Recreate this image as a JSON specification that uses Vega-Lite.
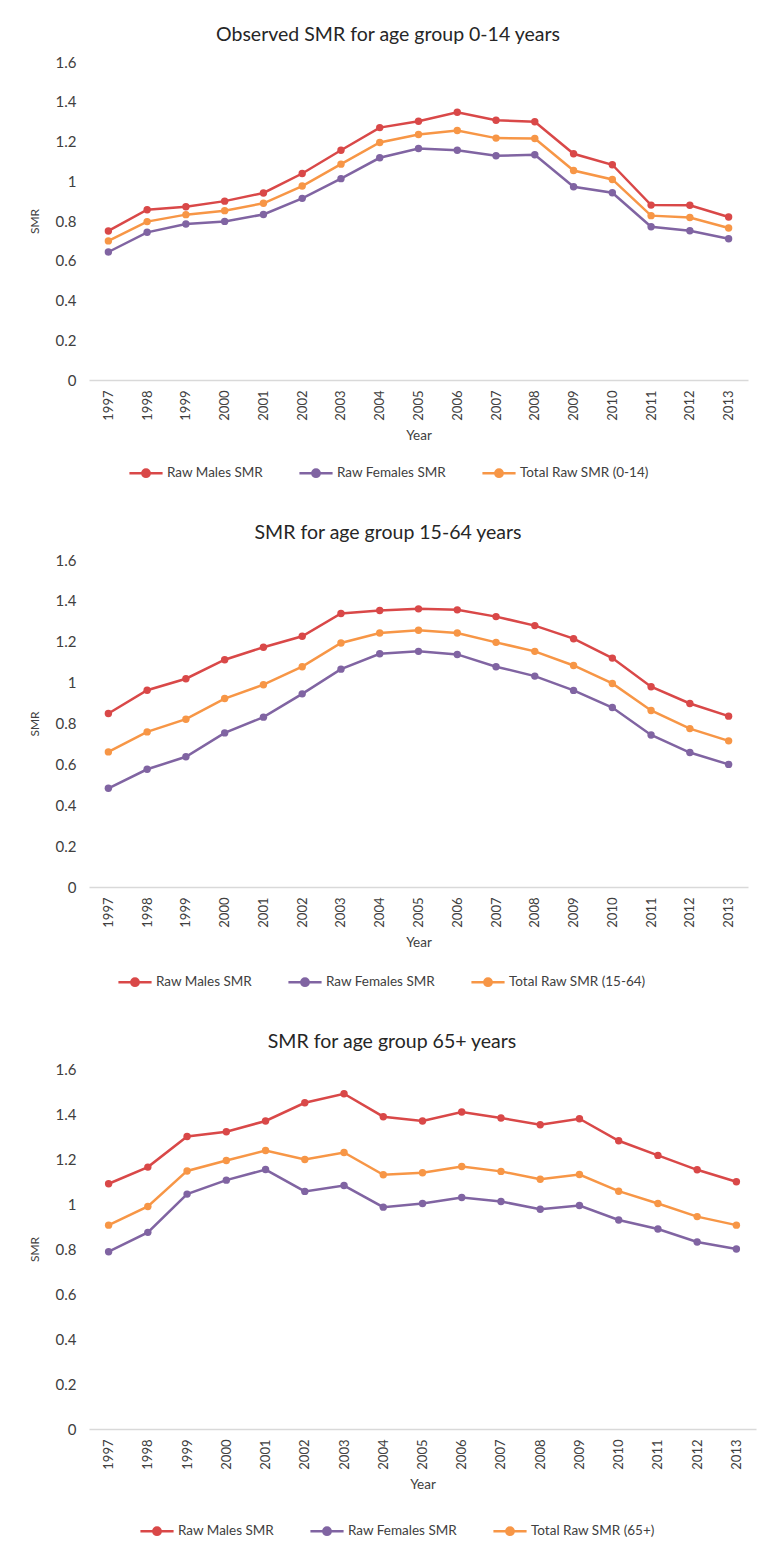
{
  "$schema": "https://vega.github.io/schema/vega-lite/v6.json",
  "background": "white",
  "padding": {"left": 28, "top": 24, "right": 5, "bottom": 5},
  "config": {
    "font": "Lato",
    "view": {"stroke": null},
    "axis": {"labelColor": "#404040", "titleColor": "#404040", "titleFontWeight": "normal", "ticks": false, "grid": false, "domain": false},
    "axisX": {"domain": true, "domainColor": "#d9d9d9", "domainWidth": 1.5, "labelAngle": -90, "labelFontSize": 13, "labelPadding": 10, "titleFontSize": 13.5, "titlePadding": 8},
    "axisY": {"labelFontSize": 15, "labelPadding": 13, "titleFontSize": 12, "titlePadding": 14, "values": [0, 0.2, 0.4, 0.6, 0.8, 1, 1.2, 1.4, 1.6], "format": "~g"},
    "title": {"fontSize": 19.5, "fontWeight": "normal", "color": "#262626", "anchor": "middle", "frame": "bounds", "offset": 10},
    "legend": {"orient": "none", "direction": "horizontal", "title": null, "labelFontSize": 13.5, "labelColor": "#404040", "symbolType": "M-1,0L1,0M-0.22,0A0.22,0.22 0 1,0 0.22,0A0.22,0.22 0 1,0 -0.22,0", "symbolSize": 1100, "symbolStrokeWidth": 2.5, "columnPadding": 30, "labelOffset": 3},
    "line": {"strokeWidth": 2.5},
    "point": {"filled": true, "size": 55, "opacity": 1},
    "concat": {"spacing": 40}
  },
  "vconcat": [
    {
      "title": "Observed SMR for age group 0-14 years",
      "width": 659,
      "height": 318,
      "data": {"values": [
        {"Year": 1997, "Series": "Raw Males SMR", "SMR": 0.750},
        {"Year": 1998, "Series": "Raw Males SMR", "SMR": 0.857},
        {"Year": 1999, "Series": "Raw Males SMR", "SMR": 0.872},
        {"Year": 2000, "Series": "Raw Males SMR", "SMR": 0.900},
        {"Year": 2001, "Series": "Raw Males SMR", "SMR": 0.941},
        {"Year": 2002, "Series": "Raw Males SMR", "SMR": 1.039},
        {"Year": 2003, "Series": "Raw Males SMR", "SMR": 1.156},
        {"Year": 2004, "Series": "Raw Males SMR", "SMR": 1.270},
        {"Year": 2005, "Series": "Raw Males SMR", "SMR": 1.302},
        {"Year": 2006, "Series": "Raw Males SMR", "SMR": 1.347},
        {"Year": 2007, "Series": "Raw Males SMR", "SMR": 1.307},
        {"Year": 2008, "Series": "Raw Males SMR", "SMR": 1.299},
        {"Year": 2009, "Series": "Raw Males SMR", "SMR": 1.138},
        {"Year": 2010, "Series": "Raw Males SMR", "SMR": 1.083},
        {"Year": 2011, "Series": "Raw Males SMR", "SMR": 0.880},
        {"Year": 2012, "Series": "Raw Males SMR", "SMR": 0.879},
        {"Year": 2013, "Series": "Raw Males SMR", "SMR": 0.820},
        {"Year": 1997, "Series": "Raw Females SMR", "SMR": 0.644},
        {"Year": 1998, "Series": "Raw Females SMR", "SMR": 0.743},
        {"Year": 1999, "Series": "Raw Females SMR", "SMR": 0.785},
        {"Year": 2000, "Series": "Raw Females SMR", "SMR": 0.798},
        {"Year": 2001, "Series": "Raw Females SMR", "SMR": 0.833},
        {"Year": 2002, "Series": "Raw Females SMR", "SMR": 0.914},
        {"Year": 2003, "Series": "Raw Females SMR", "SMR": 1.013},
        {"Year": 2004, "Series": "Raw Females SMR", "SMR": 1.118},
        {"Year": 2005, "Series": "Raw Females SMR", "SMR": 1.165},
        {"Year": 2006, "Series": "Raw Females SMR", "SMR": 1.156},
        {"Year": 2007, "Series": "Raw Females SMR", "SMR": 1.128},
        {"Year": 2008, "Series": "Raw Females SMR", "SMR": 1.133},
        {"Year": 2009, "Series": "Raw Females SMR", "SMR": 0.972},
        {"Year": 2010, "Series": "Raw Females SMR", "SMR": 0.942},
        {"Year": 2011, "Series": "Raw Females SMR", "SMR": 0.771},
        {"Year": 2012, "Series": "Raw Females SMR", "SMR": 0.751},
        {"Year": 2013, "Series": "Raw Females SMR", "SMR": 0.711},
        {"Year": 1997, "Series": "Total Raw SMR (0-14)", "SMR": 0.700},
        {"Year": 1998, "Series": "Total Raw SMR (0-14)", "SMR": 0.797},
        {"Year": 1999, "Series": "Total Raw SMR (0-14)", "SMR": 0.832},
        {"Year": 2000, "Series": "Total Raw SMR (0-14)", "SMR": 0.852},
        {"Year": 2001, "Series": "Total Raw SMR (0-14)", "SMR": 0.889},
        {"Year": 2002, "Series": "Total Raw SMR (0-14)", "SMR": 0.976},
        {"Year": 2003, "Series": "Total Raw SMR (0-14)", "SMR": 1.086},
        {"Year": 2004, "Series": "Total Raw SMR (0-14)", "SMR": 1.195},
        {"Year": 2005, "Series": "Total Raw SMR (0-14)", "SMR": 1.235},
        {"Year": 2006, "Series": "Total Raw SMR (0-14)", "SMR": 1.255},
        {"Year": 2007, "Series": "Total Raw SMR (0-14)", "SMR": 1.217},
        {"Year": 2008, "Series": "Total Raw SMR (0-14)", "SMR": 1.215},
        {"Year": 2009, "Series": "Total Raw SMR (0-14)", "SMR": 1.054},
        {"Year": 2010, "Series": "Total Raw SMR (0-14)", "SMR": 1.009},
        {"Year": 2011, "Series": "Total Raw SMR (0-14)", "SMR": 0.827},
        {"Year": 2012, "Series": "Total Raw SMR (0-14)", "SMR": 0.818},
        {"Year": 2013, "Series": "Total Raw SMR (0-14)", "SMR": 0.765}
      ]},
      "encoding": {
        "x": {"field": "Year", "type": "ordinal", "title": "Year", "scale": {"type": "point", "padding": 0.5}},
        "y": {"field": "SMR", "type": "quantitative", "title": "SMR", "scale": {"domain": [0, 1.6]}},
        "color": {"field": "Series", "type": "nominal", "scale": {"domain": ["Raw Males SMR", "Raw Females SMR", "Total Raw SMR (0-14)"], "range": ["#d94848", "#8064a2", "#f79646"]}, "legend": {"legendX": 39, "legendY": 393}}
      },
      "layer": [
        {"mark": {"type": "line"}},
        {"mark": {"type": "point"}}
      ]
    },
    {
      "title": "SMR for age group 15-64 years",
      "width": 659,
      "height": 327,
      "data": {"values": [
        {"Year": 1997, "Series": "Raw Males SMR", "SMR": 0.849},
        {"Year": 1998, "Series": "Raw Males SMR", "SMR": 0.963},
        {"Year": 1999, "Series": "Raw Males SMR", "SMR": 1.019},
        {"Year": 2000, "Series": "Raw Males SMR", "SMR": 1.112},
        {"Year": 2001, "Series": "Raw Males SMR", "SMR": 1.173},
        {"Year": 2002, "Series": "Raw Males SMR", "SMR": 1.227},
        {"Year": 2003, "Series": "Raw Males SMR", "SMR": 1.338},
        {"Year": 2004, "Series": "Raw Males SMR", "SMR": 1.353},
        {"Year": 2005, "Series": "Raw Males SMR", "SMR": 1.361},
        {"Year": 2006, "Series": "Raw Males SMR", "SMR": 1.356},
        {"Year": 2007, "Series": "Raw Males SMR", "SMR": 1.323},
        {"Year": 2008, "Series": "Raw Males SMR", "SMR": 1.279},
        {"Year": 2009, "Series": "Raw Males SMR", "SMR": 1.215},
        {"Year": 2010, "Series": "Raw Males SMR", "SMR": 1.120},
        {"Year": 2011, "Series": "Raw Males SMR", "SMR": 0.980},
        {"Year": 2012, "Series": "Raw Males SMR", "SMR": 0.898},
        {"Year": 2013, "Series": "Raw Males SMR", "SMR": 0.836},
        {"Year": 1997, "Series": "Raw Females SMR", "SMR": 0.483},
        {"Year": 1998, "Series": "Raw Females SMR", "SMR": 0.576},
        {"Year": 1999, "Series": "Raw Females SMR", "SMR": 0.637},
        {"Year": 2000, "Series": "Raw Females SMR", "SMR": 0.754},
        {"Year": 2001, "Series": "Raw Females SMR", "SMR": 0.831},
        {"Year": 2002, "Series": "Raw Females SMR", "SMR": 0.945},
        {"Year": 2003, "Series": "Raw Females SMR", "SMR": 1.066},
        {"Year": 2004, "Series": "Raw Females SMR", "SMR": 1.141},
        {"Year": 2005, "Series": "Raw Females SMR", "SMR": 1.153},
        {"Year": 2006, "Series": "Raw Females SMR", "SMR": 1.138},
        {"Year": 2007, "Series": "Raw Females SMR", "SMR": 1.078},
        {"Year": 2008, "Series": "Raw Females SMR", "SMR": 1.032},
        {"Year": 2009, "Series": "Raw Females SMR", "SMR": 0.962},
        {"Year": 2010, "Series": "Raw Females SMR", "SMR": 0.878},
        {"Year": 2011, "Series": "Raw Females SMR", "SMR": 0.744},
        {"Year": 2012, "Series": "Raw Females SMR", "SMR": 0.658},
        {"Year": 2013, "Series": "Raw Females SMR", "SMR": 0.600},
        {"Year": 1997, "Series": "Total Raw SMR (15-64)", "SMR": 0.661},
        {"Year": 1998, "Series": "Total Raw SMR (15-64)", "SMR": 0.759},
        {"Year": 1999, "Series": "Total Raw SMR (15-64)", "SMR": 0.821},
        {"Year": 2000, "Series": "Total Raw SMR (15-64)", "SMR": 0.922},
        {"Year": 2001, "Series": "Total Raw SMR (15-64)", "SMR": 0.990},
        {"Year": 2002, "Series": "Total Raw SMR (15-64)", "SMR": 1.078},
        {"Year": 2003, "Series": "Total Raw SMR (15-64)", "SMR": 1.194},
        {"Year": 2004, "Series": "Total Raw SMR (15-64)", "SMR": 1.243},
        {"Year": 2005, "Series": "Total Raw SMR (15-64)", "SMR": 1.256},
        {"Year": 2006, "Series": "Total Raw SMR (15-64)", "SMR": 1.243},
        {"Year": 2007, "Series": "Total Raw SMR (15-64)", "SMR": 1.197},
        {"Year": 2008, "Series": "Total Raw SMR (15-64)", "SMR": 1.153},
        {"Year": 2009, "Series": "Total Raw SMR (15-64)", "SMR": 1.084},
        {"Year": 2010, "Series": "Total Raw SMR (15-64)", "SMR": 0.996},
        {"Year": 2011, "Series": "Total Raw SMR (15-64)", "SMR": 0.864},
        {"Year": 2012, "Series": "Total Raw SMR (15-64)", "SMR": 0.775},
        {"Year": 2013, "Series": "Total Raw SMR (15-64)", "SMR": 0.715}
      ]},
      "encoding": {
        "x": {"field": "Year", "type": "ordinal", "title": "Year", "scale": {"type": "point", "padding": 0.5}},
        "y": {"field": "SMR", "type": "quantitative", "title": "SMR", "scale": {"domain": [0, 1.6]}},
        "color": {"field": "Series", "type": "nominal", "scale": {"domain": ["Raw Males SMR", "Raw Females SMR", "Total Raw SMR (15-64)"], "range": ["#d94848", "#8064a2", "#f79646"]}, "legend": {"legendX": 28, "legendY": 404}}
      },
      "layer": [
        {"mark": {"type": "line"}},
        {"mark": {"type": "point"}}
      ]
    },
    {
      "title": "SMR for age group 65+ years",
      "width": 667,
      "height": 360,
      "data": {"values": [
        {"Year": 1997, "Series": "Raw Males SMR", "SMR": 1.090},
        {"Year": 1998, "Series": "Raw Males SMR", "SMR": 1.164},
        {"Year": 1999, "Series": "Raw Males SMR", "SMR": 1.300},
        {"Year": 2000, "Series": "Raw Males SMR", "SMR": 1.321},
        {"Year": 2001, "Series": "Raw Males SMR", "SMR": 1.369},
        {"Year": 2002, "Series": "Raw Males SMR", "SMR": 1.450},
        {"Year": 2003, "Series": "Raw Males SMR", "SMR": 1.490},
        {"Year": 2004, "Series": "Raw Males SMR", "SMR": 1.388},
        {"Year": 2005, "Series": "Raw Males SMR", "SMR": 1.369},
        {"Year": 2006, "Series": "Raw Males SMR", "SMR": 1.409},
        {"Year": 2007, "Series": "Raw Males SMR", "SMR": 1.382},
        {"Year": 2008, "Series": "Raw Males SMR", "SMR": 1.352},
        {"Year": 2009, "Series": "Raw Males SMR", "SMR": 1.379},
        {"Year": 2010, "Series": "Raw Males SMR", "SMR": 1.281},
        {"Year": 2011, "Series": "Raw Males SMR", "SMR": 1.216},
        {"Year": 2012, "Series": "Raw Males SMR", "SMR": 1.152},
        {"Year": 2013, "Series": "Raw Males SMR", "SMR": 1.099},
        {"Year": 1997, "Series": "Raw Females SMR", "SMR": 0.788},
        {"Year": 1998, "Series": "Raw Females SMR", "SMR": 0.874},
        {"Year": 1999, "Series": "Raw Females SMR", "SMR": 1.044},
        {"Year": 2000, "Series": "Raw Females SMR", "SMR": 1.106},
        {"Year": 2001, "Series": "Raw Females SMR", "SMR": 1.153},
        {"Year": 2002, "Series": "Raw Females SMR", "SMR": 1.056},
        {"Year": 2003, "Series": "Raw Females SMR", "SMR": 1.082},
        {"Year": 2004, "Series": "Raw Females SMR", "SMR": 0.986},
        {"Year": 2005, "Series": "Raw Females SMR", "SMR": 1.002},
        {"Year": 2006, "Series": "Raw Females SMR", "SMR": 1.029},
        {"Year": 2007, "Series": "Raw Females SMR", "SMR": 1.011},
        {"Year": 2008, "Series": "Raw Females SMR", "SMR": 0.977},
        {"Year": 2009, "Series": "Raw Females SMR", "SMR": 0.993},
        {"Year": 2010, "Series": "Raw Females SMR", "SMR": 0.929},
        {"Year": 2011, "Series": "Raw Females SMR", "SMR": 0.889},
        {"Year": 2012, "Series": "Raw Females SMR", "SMR": 0.831},
        {"Year": 2013, "Series": "Raw Females SMR", "SMR": 0.800},
        {"Year": 1997, "Series": "Total Raw SMR (65+)", "SMR": 0.906},
        {"Year": 1998, "Series": "Total Raw SMR (65+)", "SMR": 0.989},
        {"Year": 1999, "Series": "Total Raw SMR (65+)", "SMR": 1.147},
        {"Year": 2000, "Series": "Total Raw SMR (65+)", "SMR": 1.193},
        {"Year": 2001, "Series": "Total Raw SMR (65+)", "SMR": 1.238},
        {"Year": 2002, "Series": "Total Raw SMR (65+)", "SMR": 1.198},
        {"Year": 2003, "Series": "Total Raw SMR (65+)", "SMR": 1.229},
        {"Year": 2004, "Series": "Total Raw SMR (65+)", "SMR": 1.130},
        {"Year": 2005, "Series": "Total Raw SMR (65+)", "SMR": 1.139},
        {"Year": 2006, "Series": "Total Raw SMR (65+)", "SMR": 1.167},
        {"Year": 2007, "Series": "Total Raw SMR (65+)", "SMR": 1.145},
        {"Year": 2008, "Series": "Total Raw SMR (65+)", "SMR": 1.110},
        {"Year": 2009, "Series": "Total Raw SMR (65+)", "SMR": 1.131},
        {"Year": 2010, "Series": "Total Raw SMR (65+)", "SMR": 1.057},
        {"Year": 2011, "Series": "Total Raw SMR (65+)", "SMR": 1.002},
        {"Year": 2012, "Series": "Total Raw SMR (65+)", "SMR": 0.944},
        {"Year": 2013, "Series": "Total Raw SMR (65+)", "SMR": 0.906}
      ]},
      "encoding": {
        "x": {"field": "Year", "type": "ordinal", "title": "Year", "scale": {"type": "point", "padding": 0.5}},
        "y": {"field": "SMR", "type": "quantitative", "title": "SMR", "scale": {"domain": [0, 1.6]}},
        "color": {"field": "Series", "type": "nominal", "scale": {"domain": ["Raw Males SMR", "Raw Females SMR", "Total Raw SMR (65+)"], "range": ["#d94848", "#8064a2", "#f79646"]}, "legend": {"legendX": 50, "legendY": 444}}
      },
      "layer": [
        {"mark": {"type": "line"}},
        {"mark": {"type": "point"}}
      ]
    }
  ],
  "resolve": {"scale": {"color": "independent"}, "legend": {"color": "independent"}}
}
